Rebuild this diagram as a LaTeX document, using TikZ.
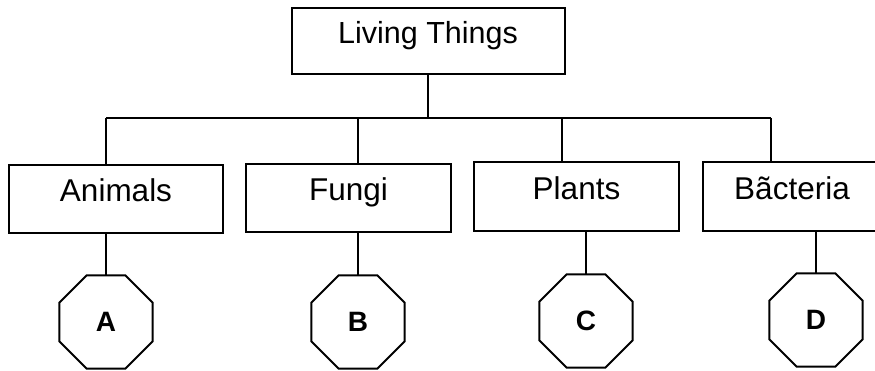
\documentclass[tikz,border=0pt]{standalone}
\usepackage{fontspec}
\setmainfont{Liberation Sans}
\usetikzlibrary{shapes.geometric}
\begin{document}
\begin{tikzpicture}[x=1pt,y=-1pt,
  line width=2pt,
  catbox/.style={draw, rectangle, inner sep=0pt, outer sep=0pt, anchor=base,
    font=\fontsize{31.5}{31.5}\selectfont, text height=36pt, text depth=32pt},
  octa/.style={draw, regular polygon, regular polygon sides=8, minimum size=101pt,
    inner sep=0pt, outer sep=0pt, font=\bfseries\fontsize{28}{28}\selectfont}]
\useasboundingbox (0,0) rectangle (875,370);
\clip (0,0) rectangle (875,370);
\fill[white] (0,0) rectangle (875,370);
% top box
\node[catbox, minimum width=273pt, text height=35pt, text depth=31pt,
  font=\fontsize{30.5}{30.5}\selectfont] (top) at (428,43) {Living Things};
% category boxes
\node[catbox, minimum width=214pt] (animals) at (116,201) {Animals};
\node[catbox, minimum width=205pt] (fungi) at (348.5,200) {Fungi};
\node[catbox, minimum width=205pt, text height=37pt] (plants) at (576.5,199) {Plants};
\node[catbox, minimum width=178pt, text height=37pt] (bacteria) at (792,199) {Bãcteria};
% octagons
\node[octa] (A) at (106,322) {A};
\node[octa] (B) at (358,322) {B};
\node[octa] (C) at (586,321) {C};
\node[octa] (D) at (816,320) {D};
% bus
\coordinate (ja) at (106,118);
\coordinate (jb) at (358,118);
\coordinate (jc) at (562,118);
\coordinate (jd) at (771,118);
\draw (top.south) -- (top.south |- ja);
\draw (ja) -- (jd);
\draw (ja) -- (ja |- animals.north);
\draw (jb) -- (jb |- fungi.north);
\draw (jc) -- (jc |- plants.north);
\draw (jd) -- (jd |- bacteria.north);
% lower connectors
\draw (A.north) -- (A.north |- animals.south);
\draw (B.north) -- (B.north |- fungi.south);
\draw (C.north) -- (C.north |- plants.south);
\draw (D.north) -- (D.north |- bacteria.south);
\end{tikzpicture}
\end{document}
